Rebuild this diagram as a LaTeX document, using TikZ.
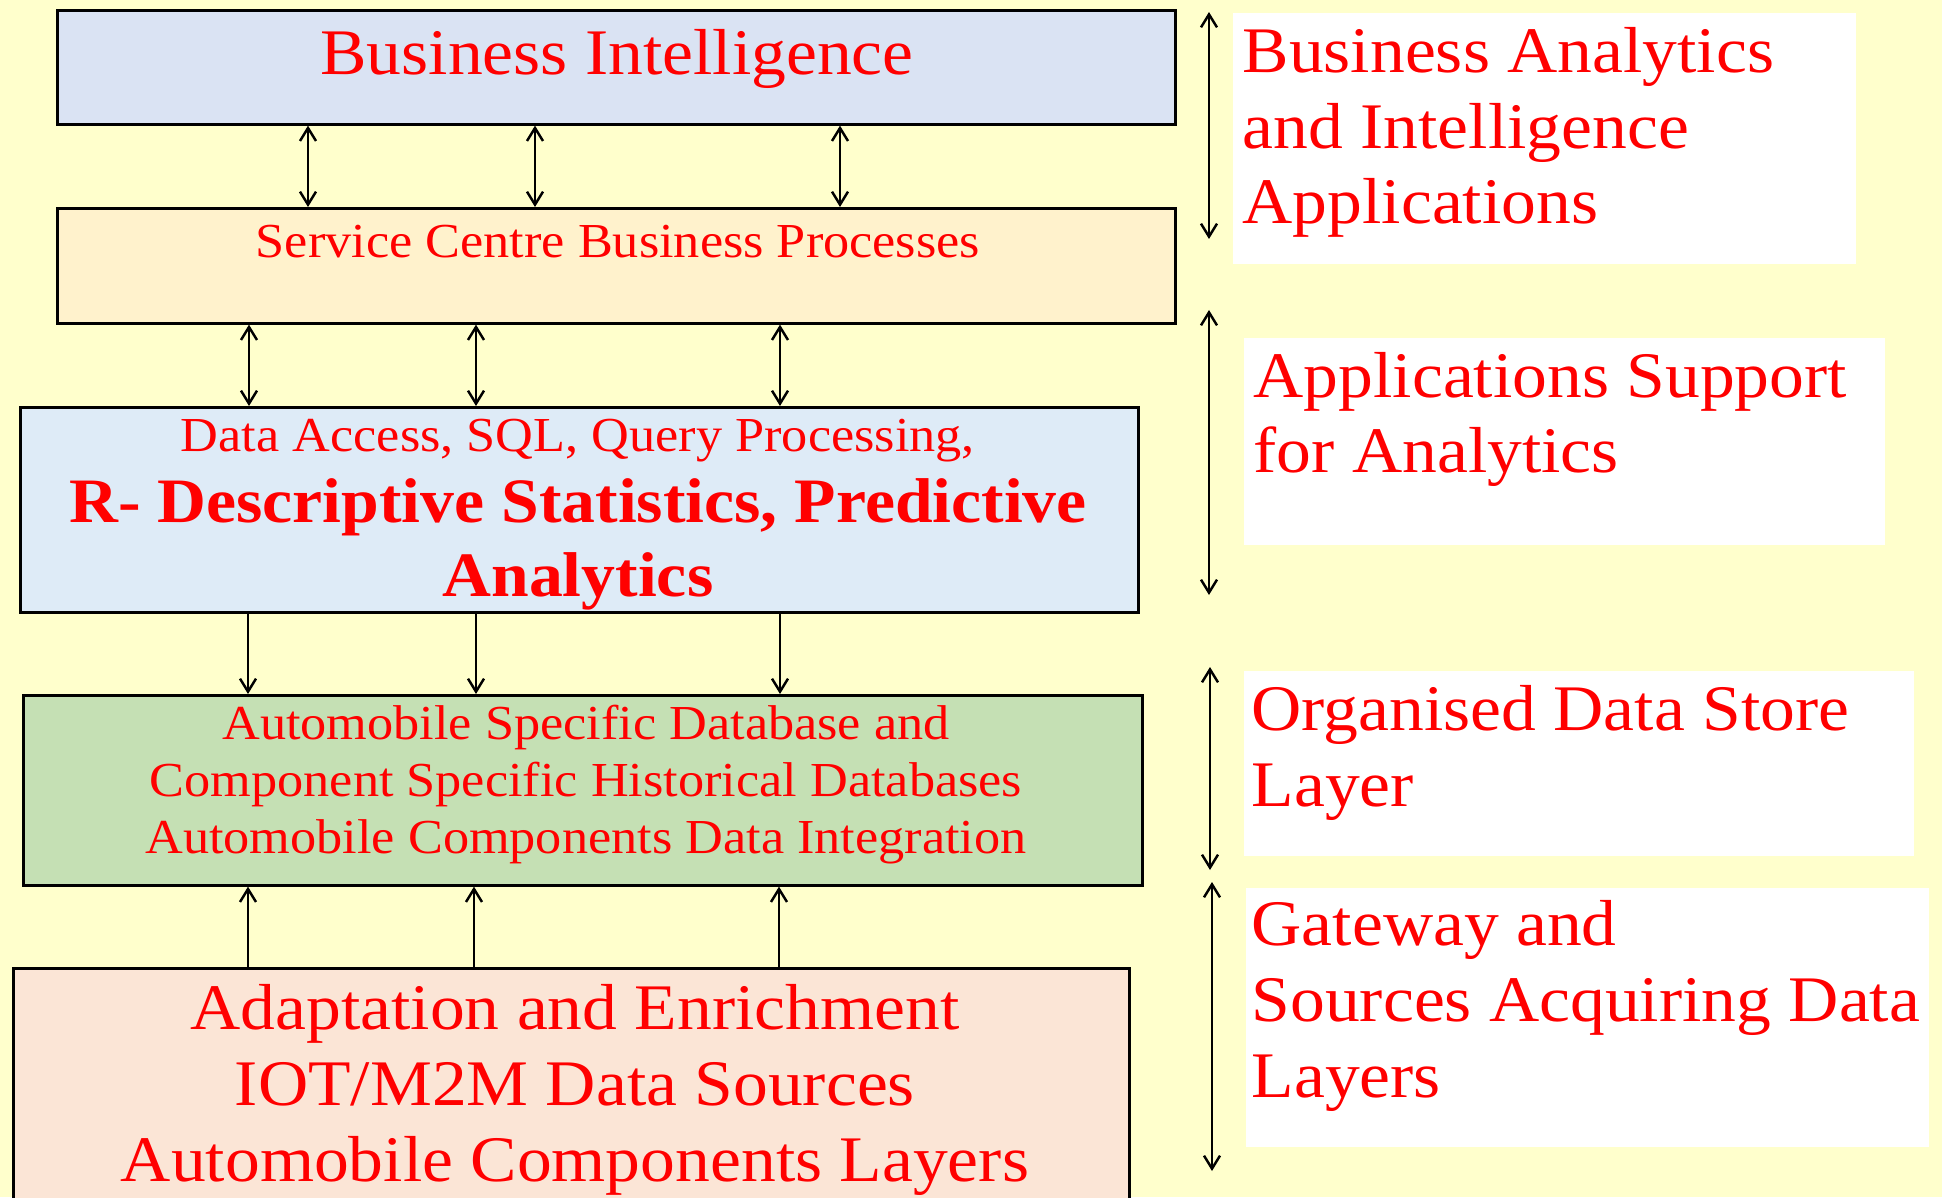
\documentclass[tikz,border=0pt]{standalone}
\usepackage{fontspec}
\setmainfont{Liberation Serif}[FakeStretch=1.07]
\usepackage{xcolor}
\usepackage{tikz}
\usetikzlibrary{positioning}
\usetikzlibrary{arrows.meta}

\definecolor{pagebg}{HTML}{FFFFCC}
\definecolor{bifill}{HTML}{DAE3F3}
\definecolor{scfill}{HTML}{FFF2CC}
\definecolor{dafill}{HTML}{DEEBF7}
\definecolor{dbfill}{HTML}{C5E0B4}
\definecolor{srcfill}{HTML}{FBE5D6}
\definecolor{txtred}{HTML}{FF0000}

\begin{document}
\begin{tikzpicture}[
	font=\fontsize{18.5}{21.6}\selectfont,
	>={Straight Barb[length=1.3mm,width=1.6mm]}
]
\tikzset{
    layer/.style = {rectangle, draw=black, line width=0.75pt, anchor=north west, minimum width=11.18cm, inner sep=0pt},
    note/.style = {rectangle, fill=white, anchor=north west, inner sep=0pt},
    redtxt/.style = {text=txtred, anchor=base, align=center, inner sep=0pt},
    sidetxt/.style = {text=txtred, anchor=base west, align=left, inner sep=0pt},
    link/.style = {line width=0.7pt}
}
% page
\fill[pagebg] (0,0) rectangle (19.42,11.97);
\useasboundingbox (0,0) rectangle (19.42,11.97);

% layer boxes
\node[layer,fill=bifill,minimum height=1.14cm] (bi) at (0.56,11.88) {};
\node[layer,fill=scfill,minimum height=1.15cm] (sc) at (0.56,9.90) {};
\node[layer,fill=dafill,minimum height=2.05cm] (da) at (0.19,7.91) {};
\node[layer,fill=dbfill,minimum height=1.90cm,minimum width=11.19cm] (db) at (0.22,5.03) {};
\node[layer,fill=srcfill,minimum height=2.60cm,minimum width=11.16cm] (src) at (0.12,2.30) {};

% layer texts (multi-line ones sit on the baseline of their last line)
\node[redtxt] (bitxt) at (6.17,11.22) {Business Intelligence};
\node[redtxt,font=\fontsize{13.9}{16.2}\selectfont] (sctxt) at (6.18,9.39) {Service Centre Business Processes};
\node[redtxt,font=\fontsize{13.9}{16.2}\selectfont] (datxt) at (5.78,7.45) {Data Access, SQL, Query Processing,};
\node[redtxt,font=\bfseries\fontsize{18}{21}\selectfont] (rtxt) at (5.78,6.01) {R- Descriptive Statistics, Predictive\\Analytics};
\node[redtxt,font=\fontsize{13.9}{16.2}\selectfont] (dbtxt) at (5.86,3.44) {Automobile Specific Database and\\Component Specific Historical Databases\\Automobile Components Data Integration};
\node[redtxt] (srctxt) at (5.75,0.16) {Adaptation and Enrichment\\IOT/M2M Data Sources\\Automobile Components Layers};

% links between layers
\foreach \x in {3.08,5.35,8.40}
    \draw[link,<->] (\x,0 |- bi.south) -- (\x,0 |- sc.north);
\foreach \x in {2.49,4.76,7.80}
    \draw[link,<->] (\x,0 |- sc.south) -- (\x,0 |- da.north);
\foreach \x in {2.48,4.76,7.80}
    \draw[link,->] (\x,0 |- da.south) -- (\x,0 |- db.north);
\foreach \x in {2.48,4.74,7.79}
    \draw[link,->] (\x,0 |- src.north) -- (\x,0 |- db.south);

% side notes
\node[note,minimum width=6.23cm,minimum height=2.51cm] (n1) at (12.32,11.85) {};
\node[note,minimum width=6.41cm,minimum height=2.07cm] (n2) at (12.43,8.60) {};
\node[note,minimum width=6.70cm,minimum height=1.85cm] (n3) at (12.43,5.27) {};
\node[note,minimum width=6.83cm,minimum height=2.59cm] (n4) at (12.45,3.10) {};

\node[sidetxt] (n1txt) at (12.42,9.73) {Business Analytics\\and Intelligence\\Applications};
\node[sidetxt] (n2txt) at (12.53,7.24) {Applications Support\\for Analytics};
\node[sidetxt] (n3txt) at (12.51,3.91) {Organised Data Store\\Layer};
\node[sidetxt] (n4txt) at (12.51,1.00) {Gateway and\\Sources Acquiring Data\\Layers};

% layer spans
\coordinate (s1a) at (12.09,11.85);
\coordinate (s1b) at (12.09,9.58);
\coordinate (s2a) at (12.09,8.87);
\coordinate (s2b) at (12.09,6.02);
\coordinate (s3a) at (12.10,5.30);
\coordinate (s3b) at (12.10,3.27);
\coordinate (s4a) at (12.12,3.15);
\coordinate (s4b) at (12.12,0.26);
\draw[link,<->] (s1a) -- (s1b);
\draw[link,<->] (s2a) -- (s2b);
\draw[link,<->] (s3a) -- (s3b);
\draw[link,<->] (s4a) -- (s4b);
\end{tikzpicture}
\end{document}
